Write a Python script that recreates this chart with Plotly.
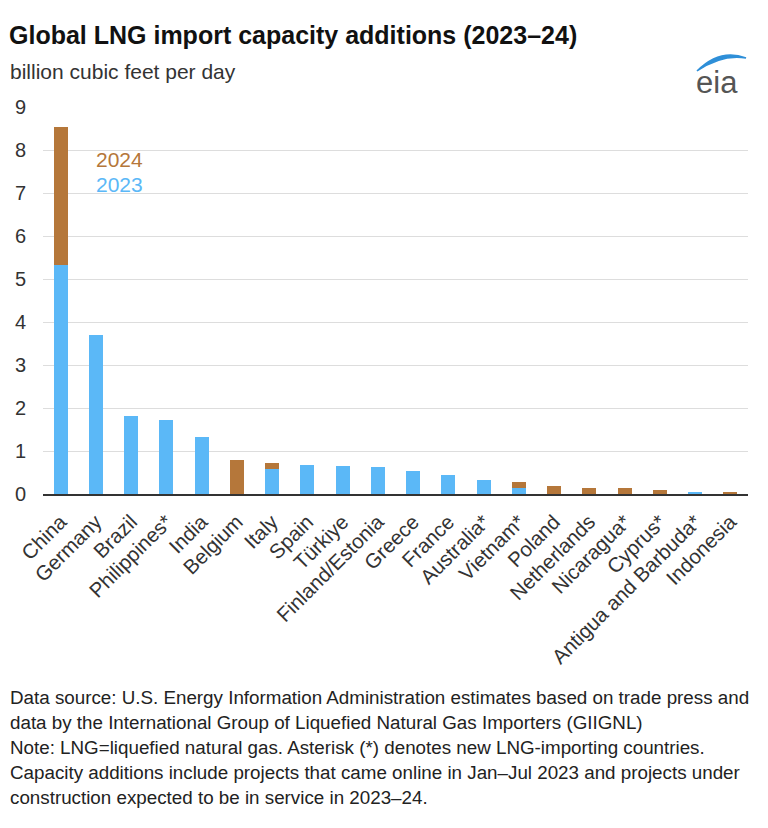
import plotly.graph_objects as go

countries = ["China", "Germany", "Brazil", "Philippines*", "India", "Belgium", "Italy", "Spain",
             "Türkiye", "Finland/Estonia", "Greece", "France", "Australia*", "Vietnam*", "Poland",
             "Netherlands", "Nicaragua*", "Cyprus*", "Antigua and Barbuda*", "Indonesia"]
cap_2023 = [5.33, 3.69, 1.82, 1.73, 1.33, 0.0, 0.59, 0.68, 0.65, 0.63, 0.53, 0.44, 0.33, 0.13,
            0.0, 0.0, 0.0, 0.0, 0.04, 0.0]
cap_2024 = [3.20, 0.0, 0.0, 0.0, 0.0, 0.80, 0.12, 0.0, 0.0, 0.0, 0.0, 0.0, 0.0, 0.14,
            0.19, 0.15, 0.15, 0.10, 0.0, 0.04]
y_ticks = [0, 1, 2, 3, 4, 5, 6, 7, 8, 9]

BLUE = "#5BB8F7"
BROWN = "#B5773A"
FONT = "Liberation Sans, Arial, sans-serif"

fig = go.Figure()
fig.add_trace(go.Bar(x=countries, y=cap_2023, name="2023", marker_color=BLUE, marker_line_width=0))
fig.add_trace(go.Bar(x=countries, y=cap_2024, name="2024", marker_color=BROWN, marker_line_width=0))

W, H = 768, 828
L, R, T, B = 43, 20, 107, 334
PW, PH = W - L - R, H - T - B

fig.update_layout(
    width=W, height=H, barmode="stack", bargap=0.6, showlegend=False,
    paper_bgcolor="white", plot_bgcolor="white",
    margin=dict(l=L, r=R, t=T, b=B, autoexpand=False),
    font=dict(family=FONT, color="#333333"),
    xaxis=dict(tickangle=-45, tickfont=dict(size=20.5, color="#333333", family=FONT),
               showline=True, linecolor="#333333", linewidth=1.5, ticks="", showgrid=False,
               ticklabelstandoff=6),
    yaxis=dict(range=[0, 9], tickvals=y_ticks, tickfont=dict(size=20, color="#333333", family=FONT),
               showgrid=True, gridcolor="#DDDDDD", gridwidth=1, zeroline=False, ticks="",
               ticklabelstandoff=16),
)

def px_x(p):
    return (p - L) / PW

def px_y(p):
    return (H - B - p) / PH

anns = [
    dict(text="<b>Global LNG import capacity additions (2023–24)</b>", x=px_x(7), y=px_y(35),
         font=dict(size=25, color="#111111", family=FONT)),
    dict(text="billion cubic feet per day", x=px_x(8), y=px_y(72),
         font=dict(size=21, color="#333333", family=FONT)),
    dict(text="2024", x=px_x(94), y=px_y(160),
         font=dict(size=21, color=BROWN, family=FONT)),
    dict(text="2023", x=px_x(94), y=px_y(184),
         font=dict(size=21, color=BLUE, family=FONT)),
    dict(text="eia", x=px_x(694), y=px_y(82), font=dict(size=31, color="#555555", family=FONT)),
]
foot = [
    "Data source: U.S. Energy Information Administration estimates based on trade press and",
    "data by the International Group of Liquefied Natural Gas Importers (GIIGNL)",
    "Note: LNG=liquefied natural gas. Asterisk (*) denotes new LNG-importing countries.",
    "Capacity additions include projects that came online in Jan–Jul 2023 and projects under",
    "construction expected to be in service in 2023–24.",
]
for i, line in enumerate(foot):
    anns.append(dict(text=line, x=px_x(8), y=px_y(697 + 25 * i),
                     font=dict(size=18.8, color="#222222", family=FONT)))

for a in anns:
    a.setdefault("xref", "paper")
    a.setdefault("yref", "paper")
    a.update(showarrow=False, xanchor="left", yanchor="middle")
    fig.add_annotation(**a)

# eia logo arc
fig.add_shape(type="path", xref="paper", yref="paper",
              path=f"M {px_x(697)} {px_y(71)} Q {px_x(720)} {px_y(48)} {px_x(746)} {px_y(58)} "
                   f"Q {px_x(722)} {px_y(54)} {px_x(697)} {px_y(71)} Z",
              fillcolor="#2E8FD8", line=dict(color="#2E8FD8", width=1.5))

fig.write_html("out.html")
